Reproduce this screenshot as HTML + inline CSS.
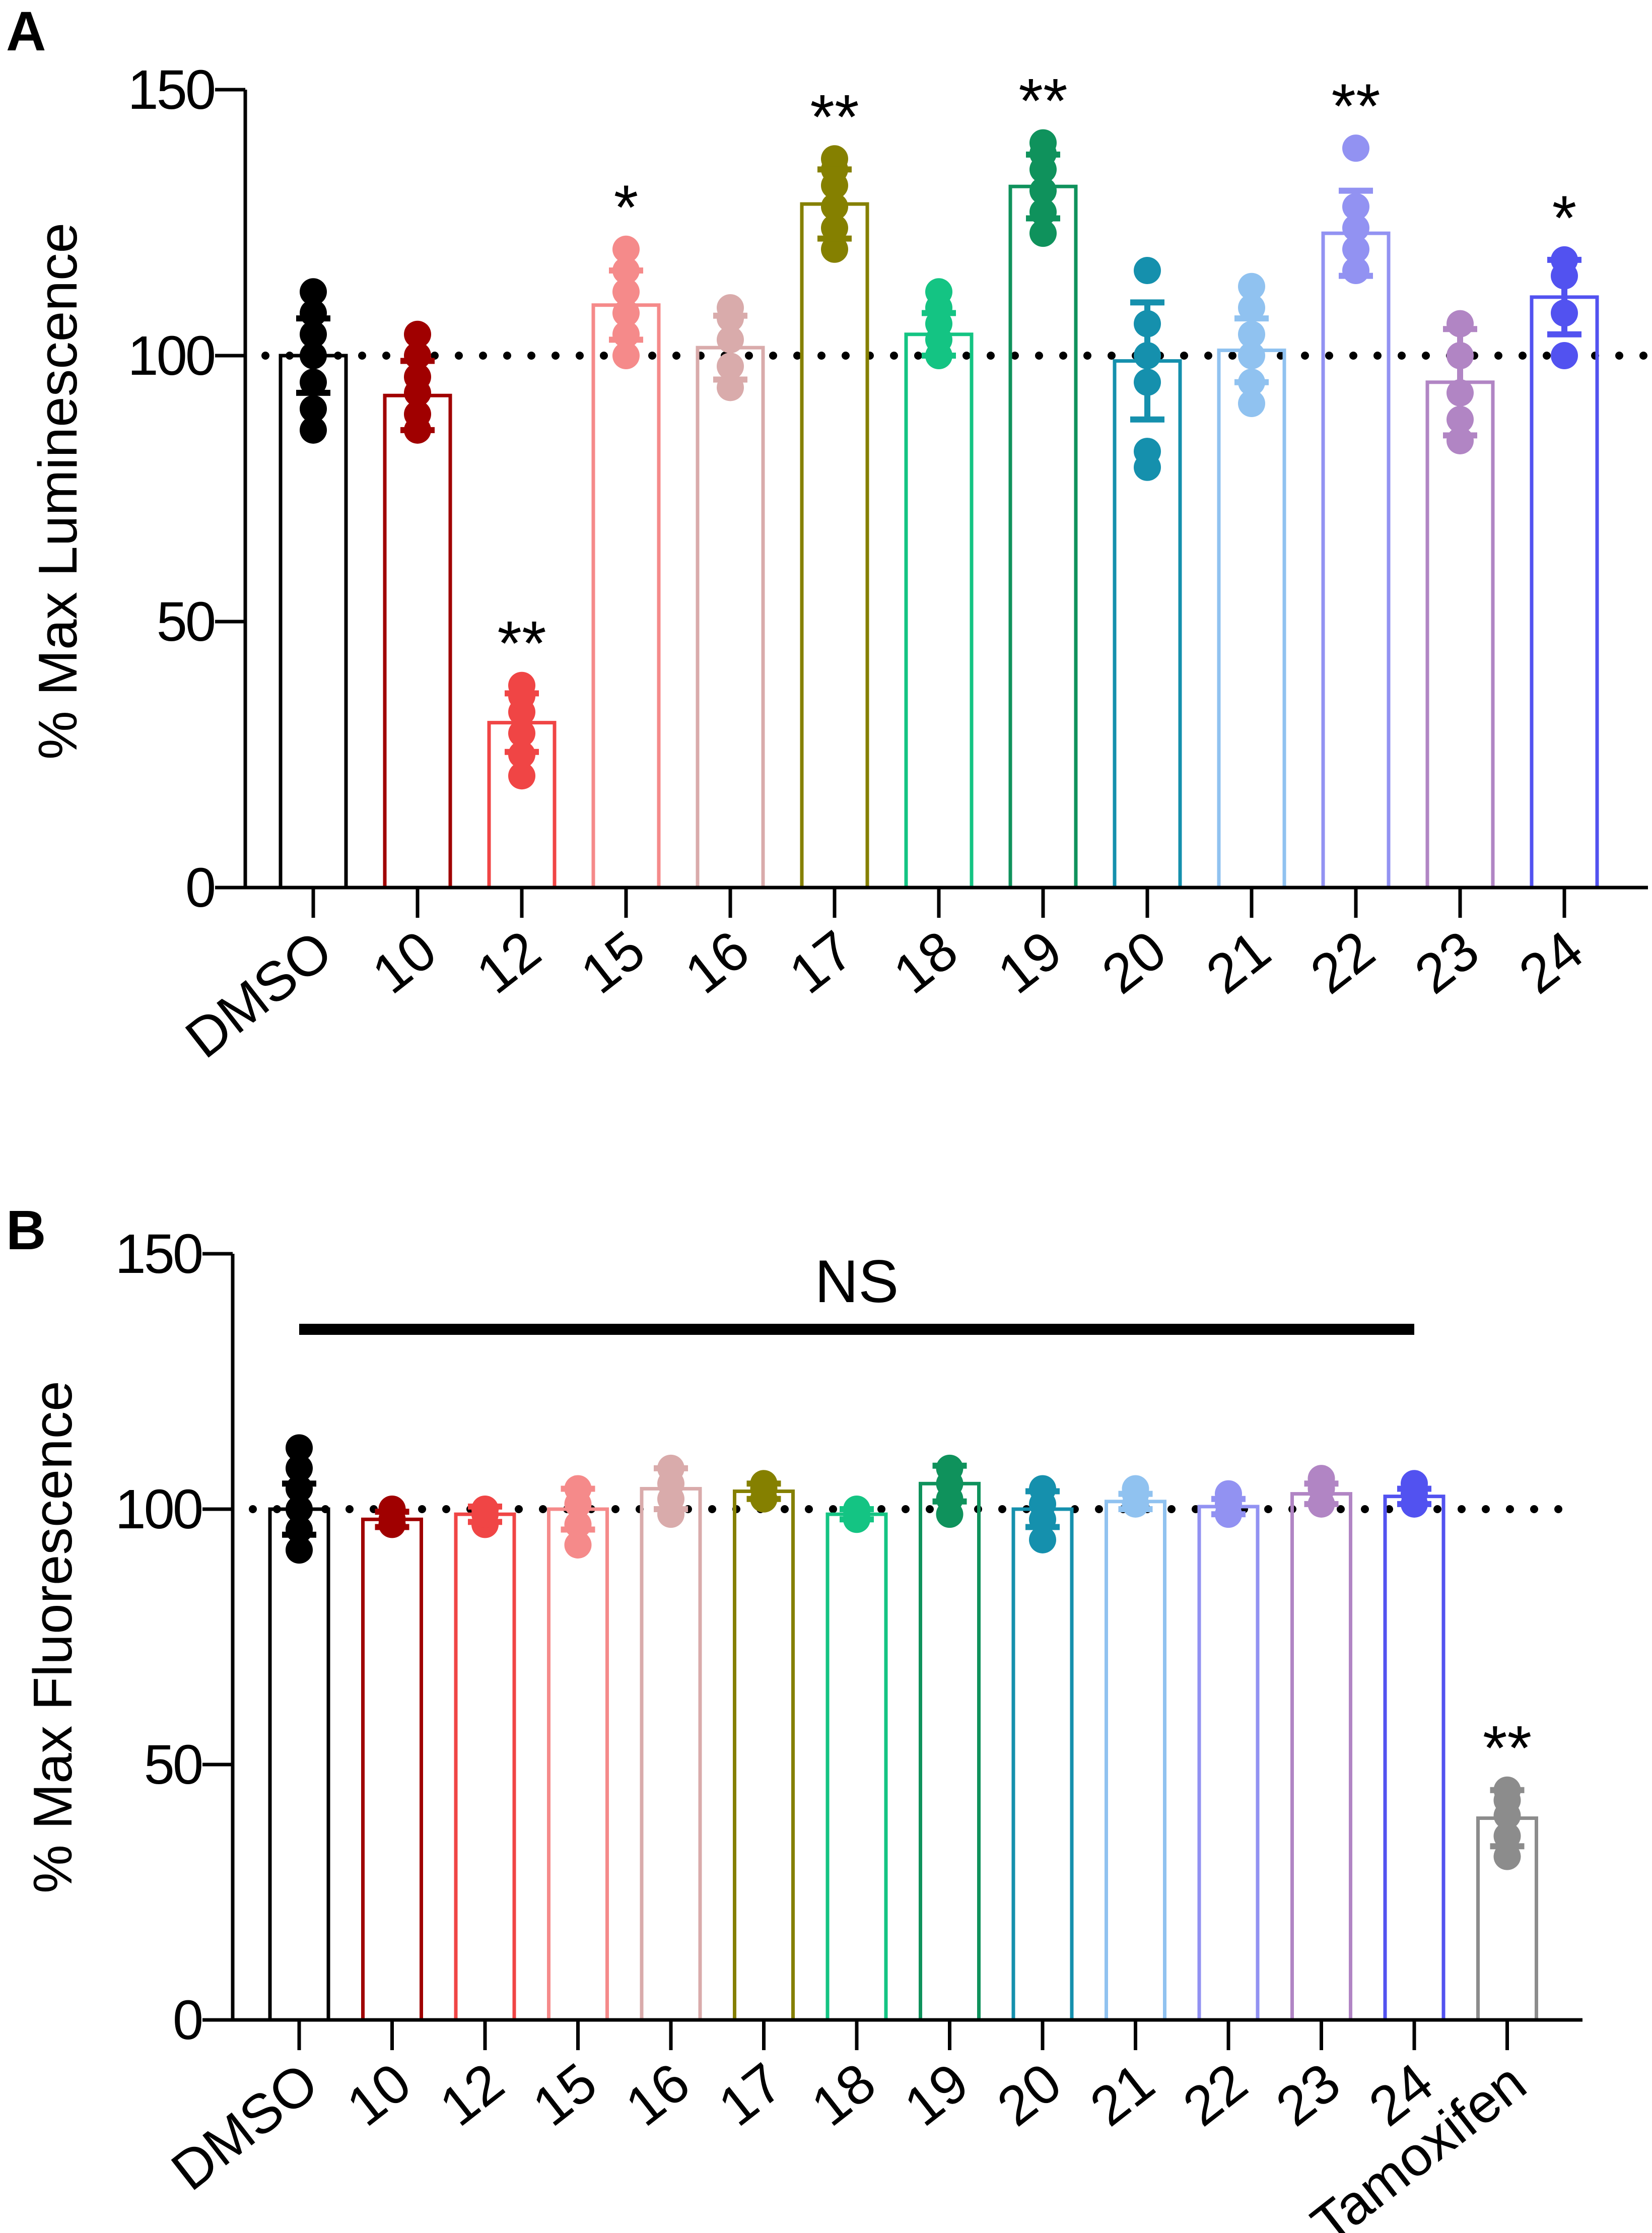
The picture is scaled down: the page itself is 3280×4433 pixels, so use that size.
<!DOCTYPE html>
<html><head><meta charset="utf-8"><style>
html,body{margin:0;padding:0;background:#fff;}
svg{display:block;font-family:"Liberation Sans",Arial,sans-serif;}
</style></head><body>
<svg id="fig" width="3280" height="4433" viewBox="0 0 3280 4433" xmlns="http://www.w3.org/2000/svg">
<rect width="3280" height="4433" fill="#fff"/>
<text x="12" y="100" font-size="110" font-weight="bold">A</text>
<text x="12" y="2480" font-size="110" font-weight="bold">B</text>
<g id="pa"></g>
<g id="pb"></g>
</svg>
<script>
const catsA = ["DMSO","10","12","15","16","17","18","19","20","21","22","23","24"];
const meansA = [100,92.5,31,109.5,101.5,128.5,104,131.8,99,101,123,95,111];
const sdA = [7,6.5,5.5,6.5,6,6.5,4,6,11,6,8,10,7];
const pointsA = [[86,90,95,100,104,108,112],[86,89,93,96,100,104],[21,25,29,33,36,38],[100,104,108,112,116,120],[94,98,103,107,109],[120,124,128,132,135,137],[100,103,106,109,112],[123,127,131,135,138,140],[79,82,95,100,106,116],[91,95,100,104,109,113],[116,120,124,128,139],[84,88,93,100,106],[100,108,115,118]];
const starsA = ["","","**","*","","**","","**","","","**","","*"];
const catsB = ["DMSO","10","12","15","16","17","18","19","20","21","22","23","24","Tamoxifen"];
const meansB = [100,98,99,100,104,103.5,99,105,100,101.5,100.5,103,102.5,39.5];
const sdB = [5,1.5,1.5,4,4,1.5,1,3.5,3.5,1.5,1.5,2,1.5,5.5];
const pointsB = [[92,96,100,104,108,112],[97,98,100],[97,99,100],[93,97,101,104],[99,102,105,108],[102,104,105],[98,99,100],[99,102,105,108],[94,98,101,104],[101,103,104],[99,101,103],[101,104,106],[101,103,105],[32,36,40,43,45]];
const starsB = ["","","","","","","","","","","","","","**"];
const colorsA = ["#000000","#a00000","#f04545","#f58a8a","#d9abab","#858000","#14c483","#0f925c","#1590ad","#90c2f0","#9292f2","#b185c4","#5252f0"];
const colorsB = colorsA.concat(["#8c8c8c"]);

const NS="http://www.w3.org/2000/svg";
function mk(p,tag,attrs){const e=document.createElementNS(NS,tag);for(const k in attrs)e.setAttribute(k,attrs[k]);p.appendChild(e);return e;}

function panel(g,cfg){
  const y=v=>cfg.y0-(v/150)*(cfg.y0-cfg.y150);
  const x=i=>cfg.x0+i*cfg.step;
  const rl=mk(g,'line',{x1:cfg.axX+40,x2:cfg.axEnd,y1:y(100),y2:y(100),stroke:'#000','stroke-width':16,'stroke-linecap':'round','stroke-dasharray':'0 48'});
  
  
  cfg.cats.forEach((c,i)=>{
    const col=cfg.colors[i],cx=x(i),bw=cfg.bw;
    const b=mk(g,'rect',{x:cx-bw/2,y:y(cfg.means[i]),width:bw,height:y(0)-y(cfg.means[i]),fill:'none',stroke:col,'stroke-width':7});
    
    
    cfg.points[i].forEach(v=>{
      const d=mk(g,'circle',{cx:cx,cy:y(v),r:27,fill:col});
      
      
    });
    const hi=y(cfg.means[i]+cfg.sd[i]),lo=y(cfg.means[i]-cfg.sd[i]);
    const eb=mk(g,'path',{d:`M${cx},${hi}V${lo}M${cx-34},${hi}H${cx+34}M${cx-34},${lo}H${cx+34}`,stroke:col,'stroke-width':12,fill:'none'});
    
    
    if(cfg.stars[i]){
      const mx=Math.max(...cfg.points[i]);
      const s=mk(g,'text',{x:cx,y:y(mx)-40,'font-size':125,'text-anchor':'middle'});
      s.textContent=cfg.stars[i];
      
      
    }
    const t=mk(g,'line',{x1:cx,x2:cx,y1:y(0),y2:y(0)+60,stroke:'#000','stroke-width':7});
    
    
    const lx=cx+45,ly=y(0)+140;
    const l=mk(g,'text',{x:lx,y:ly,'font-size':110,'text-anchor':'end',transform:`rotate(-38 ${lx} ${ly})`});
    l.textContent=c;
    
    
  });
  const ax=mk(g,'path',{d:`M${cfg.axX},${cfg.y150}V${y(0)}H${cfg.axEnd}`,stroke:'#000','stroke-width':7,fill:'none'});
  
  
  [0,50,100,150].forEach(v=>{
    const tk=mk(g,'line',{x1:cfg.axX-60,x2:cfg.axX,y1:y(v),y2:y(v),stroke:'#000','stroke-width':7});
    
    
    const tl=mk(g,'text',{x:cfg.axX-62,y:y(v)+38,'font-size':110,'text-anchor':'end','letter-spacing':-4});
    tl.textContent=v;
    
    
  });
  const yt=mk(g,'text',{x:cfg.titleX,y:cfg.titleY,'font-size':109,'text-anchor':'middle',transform:`rotate(-90 ${cfg.titleX} ${cfg.titleY})`});
  yt.textContent=cfg.title;
  
  
  return {x,y};
}
panel(document.getElementById('pa'),{cats:catsA,means:meansA,sd:sdA,points:pointsA,stars:starsA,colors:colorsA,
  x0:622,step:207,bw:130,axX:487,axEnd:3272,y150:178,y0:1762,title:"% Max Luminescence",titleX:152,titleY:975});
const pb=panel(document.getElementById('pb'),{cats:catsB,means:meansB,sd:sdB,points:pointsB,stars:starsB,colors:colorsB,
  x0:594,step:184.5,bw:116,axX:462,axEnd:3142,y150:2489,y0:4010,title:"% Max Fluorescence",titleX:142,titleY:3250});
const gb=document.getElementById('pb');
const nsl=mk(gb,'line',{x1:pb.x(0),x2:pb.x(12),y1:2639,y2:2639,stroke:'#000','stroke-width':22});


const nst=mk(gb,'text',{x:(pb.x(0)+pb.x(12))/2,y:2585,'font-size':120,'text-anchor':'middle'});
nst.textContent="NS";


</script>
</body></html>
